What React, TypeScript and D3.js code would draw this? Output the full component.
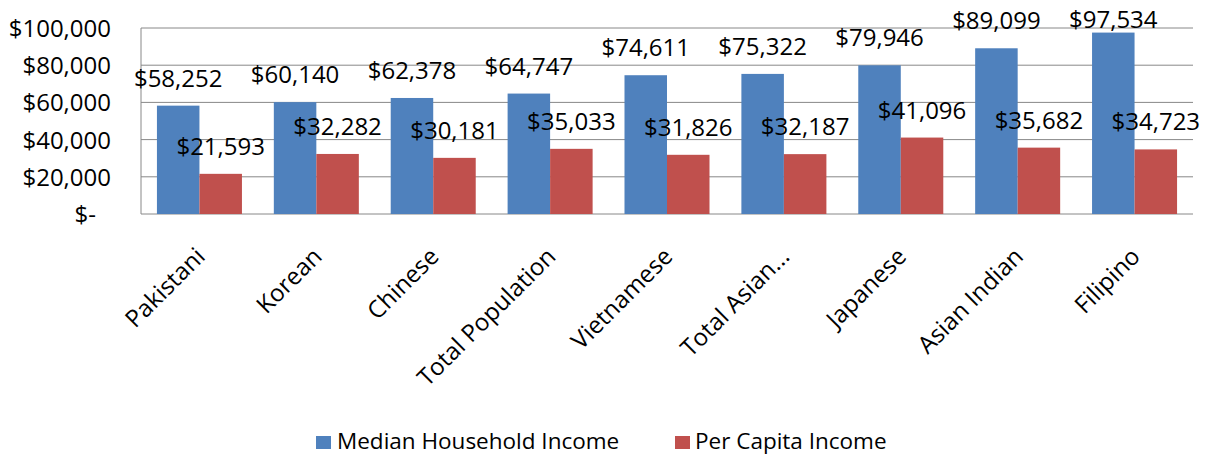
import React from 'react';
import * as d3 from 'd3';

const categories = ['Pakistani', 'Korean', 'Chinese', 'Total Population', 'Vietnamese', 'Total Asian...', 'Japanese', 'Asian Indian', 'Filipino'];
const medianHousehold = [58252, 60140, 62378, 64747, 74611, 75322, 79946, 89099, 97534];
const perCapita = [21593, 32282, 30181, 35033, 31826, 32187, 41096, 35682, 34723];
const yTicks = [0, 20000, 40000, 60000, 80000, 100000];
const seriesNames = ['Median Household Income', 'Per Capita Income'];
const colors = ['#4F81BD', '#C0504D'];

const font = "'Open Sans', 'DejaVu Sans', sans-serif";

function money(v: number) {
    return v === 0 ? '$-' : '$' + d3.format(',')(v);
}

export default function App() {
    const width = 1214;
    const height = 456;
    const plot = { left: 141, right: 1193, top: 28, bottom: 214 };

    const x = d3.scaleBand().domain(categories).range([plot.left, plot.right]);
    const y = d3.scaleLinear().domain([0, 100000]).range([plot.bottom, plot.top]);

    const band = x.bandwidth();
    const bw = band / 2.75; // gap width 75%
    const off = (band - 2 * bw) / 2;

    const series = [medianHousehold, perCapita];

    return (
        <svg width={width} height={height} style={{ position: 'absolute', left: 0, top: 0, background: '#fff' }} fontFamily={font}>
            {/* gridlines */}
            {yTicks.map(t => (
                <line key={t} x1={plot.left} x2={plot.right} y1={y(t)} y2={y(t)} stroke="#888" strokeWidth={1} />
            ))}
            <line x1={plot.left} x2={plot.left} y1={plot.top} y2={plot.bottom} stroke="#888" />
            {/* y labels */}
            {yTicks.map(t => (
                <text key={t} x={t === 0 ? 96 : 111} y={y(t) + 9} textAnchor="end" fontSize={24} fill="#000">{money(t)}</text>
            ))}
            {/* bars */}
            {series.map((s, si) => s.map((v, i) => (
                <rect key={si + '-' + i} x={(x(categories[i]) as number) + off + si * bw} y={y(v)} width={bw} height={plot.bottom - y(v)} fill={colors[si]} />
            )))}
            {/* value labels, kept inside the top of the plot */}
            {series.map((s, si) => s.map((v, i) => (
                <text key={'l' + si + '-' + i} x={(x(categories[i]) as number) + off + si * bw + bw / 2} y={Math.max(y(v) - 19, plot.top)} textAnchor="middle" fontSize={24} fill="#000">{money(v)}</text>
            )))}
            {/* category labels */}
            {categories.map(c => {
                const cx = (x(c) as number) + band / 2 + 7;
                return (
                    <text key={c} transform={`translate(${cx},258) rotate(-45)`} textAnchor="end" fontSize={24} fill="#000">{c}</text>
                );
            })}
            {/* legend */}
            <g transform="translate(316,436)">
                <rect x={0} y={0} width={15} height={13} fill={colors[0]} />
                <text x={21} y={13} fontSize={22.5} fill="#000">{seriesNames[0]}</text>
                <rect x={359} y={0} width={15} height={13} fill={colors[1]} />
                <text x={379} y={13} fontSize={22.5} fill="#000">{seriesNames[1]}</text>
            </g>
        </svg>
    );
}
